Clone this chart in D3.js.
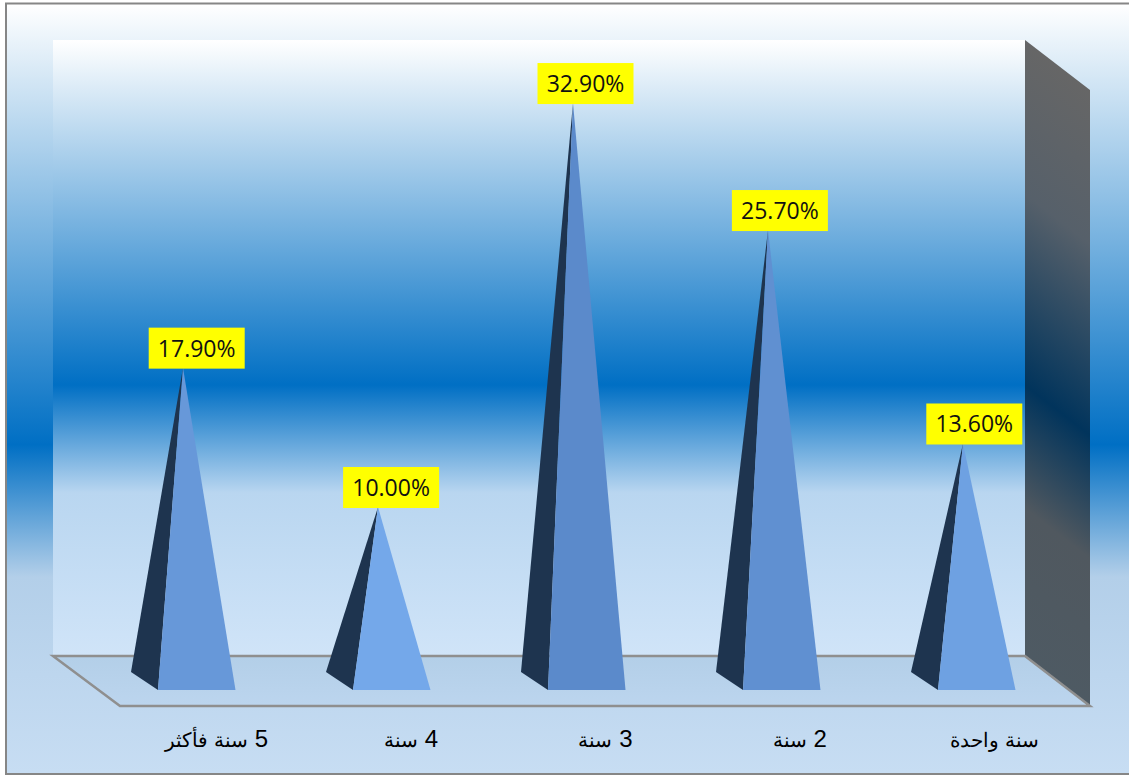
<!DOCTYPE html>
<html lang="ar">
<head>
<meta charset="utf-8">
<script src="https://cdn.jsdelivr.net/npm/d3@7"></script>
<style>
  html, body { margin: 0; padding: 0; background: #fff; }
  svg { display: block; }
</style>
</head>
<body>
<svg id="chart" width="1129" height="776"></svg>
<script>
const categories = ["5 سنة فأكثر", "4 سنة", "3 سنة", "2 سنة", "سنة واحدة"];
const shares = [17.9, 10.0, 32.9, 25.7, 13.6];
const valueLabels = ["17.90%", "10.00%", "32.90%", "25.70%", "13.60%"];

const width = 1129, height = 776;
const wall = { left: 53, right: 1025, top: 40, bottom: 656 };
const depth = { dx: 65, dy: 50 };
const floorFront = 706;

const svg = d3.select("#chart");
const defs = svg.append("defs");

function gradient(id, stops, attrs) {
  const g = defs.append("linearGradient").attr("id", id);
  Object.entries(attrs || { x1: 0, y1: 0, x2: 0, y2: 1 }).forEach(([k, v]) => g.attr(k, v));
  stops.forEach(([o, c]) => g.append("stop").attr("offset", o).attr("stop-color", c));
}

gradient("pageFill", [[0, "#ffffff"], [0.573, "#006fc4"], [0.745, "#b3cfe9"], [1, "#c7ddf3"]]);
gradient("wallFill", [[0, "#ffffff"], [0.56, "#006fc4"], [0.735, "#b9d6f0"], [1, "#d0e4f8"]]);
// The side wall's shading runs across the receding edge, not straight down
gradient("sideFill",
  [[0, "#666666"], [0.25, "#56606a"], [0.56, "#01345c"], [0.76, "#50585f"], [1, "#4e5a63"]],
  { gradientUnits: "userSpaceOnUse", x1: 1090, y1: 90, x2: 792, y2: 477 });
gradient("floorFill", [[0, "#b3cfe8"], [1, "#bcd5ee"]]);

// Page background and frame
svg.append("rect").attr("x", 6).attr("y", 4).attr("width", width - 6).attr("height", 769)
  .attr("fill", "url(#pageFill)");
svg.append("path").attr("d", "M1129,3.5H6V774H1129")
  .attr("fill", "none").attr("stroke", "#868686").attr("stroke-width", 2);

// Back wall
svg.append("rect").attr("x", wall.left).attr("y", wall.top)
  .attr("width", wall.right - wall.left).attr("height", wall.bottom - wall.top)
  .attr("fill", "url(#wallFill)");

// Side wall
const line = d3.line();
svg.append("path")
  .attr("d", line([
    [wall.right, wall.top],
    [wall.right + depth.dx, wall.top + depth.dy],
    [wall.right + depth.dx, floorFront],
    [wall.right, wall.bottom]
  ]) + "Z")
  .attr("fill", "url(#sideFill)");

// Floor
svg.append("path")
  .attr("d", line([
    [wall.left, wall.bottom],
    [wall.right, wall.bottom],
    [wall.right + depth.dx, floorFront],
    [wall.left + 67, floorFront]
  ]) + "Z")
  .attr("fill", "url(#floorFill)")
  .attr("stroke", "#8f8f8f").attr("stroke-width", 2.5);

// Pyramids sit on a slightly wider band than the labels below them
const x = d3.scaleBand().domain(categories).range([53, 1028]);
const labelX = d3.scaleBand().domain(categories).range([wall.left, wall.right]);
const y = d3.scaleLinear().domain([0, 35]).range([683.4, 66]);
const faceColor = d3.scaleLinear().domain([10, 20, 32.9]).range(["#74a8ea", "#6494d5", "#5b8acb"]);

const baseFront = 690, baseBack = 672;
const apexDx = 32.5;
const rows = categories.map((c, i) => ({ c, v: shares[i], label: valueLabels[i] }));

const pyramids = svg.append("g").selectAll("g")
  .data(rows)
  .join("g")
  .attr("transform", d => `translate(${x(d.c) + x.bandwidth() / 2},0)`);

// Shaded side face
pyramids.append("path")
  .attr("d", d => line([[apexDx, y(d.v)], [-19.5, baseBack], [7.5, baseFront]]) + "Z")
  .attr("fill", "#1e344f");

// Lit front face
pyramids.append("path")
  .attr("d", d => line([[apexDx, y(d.v)], [7.5, baseFront], [85, baseFront]]) + "Z")
  .attr("fill", d => faceColor(d.v));

// Value tags
const tags = svg.append("g").selectAll("g")
  .data(rows)
  .join("g")
  .attr("transform", d => `translate(${labelX(d.c) + labelX.bandwidth() / 2 + 46.5},${y(d.v) + 1})`);
tags.append("rect")
  .attr("x", -48).attr("y", -41).attr("width", 96).attr("height", 41)
  .attr("fill", "#ffff00");
tags.append("text")
  .attr("y", -12).attr("text-anchor", "middle")
  .attr("font-family", "'Open Sans', sans-serif").attr("font-size", 23)
  .attr("fill", "#111")
  .text(d => d.label);

// Category labels under the floor: numerals are set larger than the Arabic word
const catLabels = svg.append("g").selectAll("text")
  .data(categories)
  .join("text")
  .attr("x", d => labelX(d) + labelX.bandwidth() / 2 + 66.5)
  .attr("y", 747)
  .attr("text-anchor", "middle")
  .attr("direction", "rtl")
  .attr("font-family", "'Liberation Sans', Arial, sans-serif")
  .attr("fill", "#000");

catLabels.each(function (d) {
  const m = d.match(/^(\d+) (.*)$/);
  const sel = d3.select(this);
  if (m) {
    sel.append("tspan").attr("font-size", 24).text(m[1] + " ");
    sel.append("tspan").attr("font-size", 20).text(m[2]);
  } else {
    sel.append("tspan").attr("font-size", 20).text(d);
  }
});
</script>
</body>
</html>
